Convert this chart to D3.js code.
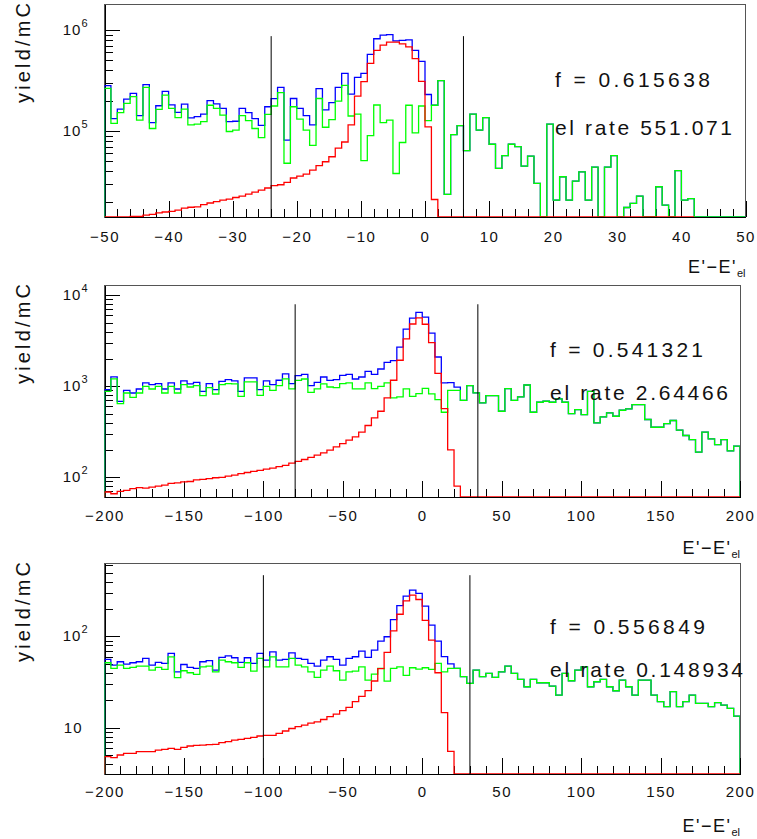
<!DOCTYPE html>
<html>
<head>
<meta charset="utf-8">
<script src="https://cdnjs.cloudflare.com/ajax/libs/d3/7.8.5/d3.min.js"></script>
<style>
body{margin:0;background:#fff;}
svg{display:block;font-family:"Liberation Sans",Arial,sans-serif;}
.axis path,.axis line{stroke:#000;shape-rendering:crispEdges;}
</style>
</head>
<body>
<div id="chart"></div>
<script>
//three log-scale histograms of E'-E'el, 100 bins each
//panel 1: -50..50 (bin 1), panels 2 and 3: -200..200 (bin 4)
var xEdges1 = [-50, 50], xEdges2 = [-200, 200], xEdges3 = [-200, 200];

//blue = total, green = background, red = elastic
var blue1 = [
2.81e5,1.33e5,1.65e5,2.07e5,2.36e5,1.42e5,2.88e5,1.21e5,1.78e5,2.47e5,
1.82e5,1.53e5,1.85e5,1.35e5,1.39e5,1.47e5,2.00e5,1.86e5,1.68e5,1.24e5,
1.25e5,1.68e5,1.52e5,1.33e5,1.14e5,1.74e5,2.09e5,2.71e5,8.15e4,2.10e5,
1.68e5,1.42e5,1.15e5,2.63e5,1.62e5,1.91e5,2.71e5,3.73e5,2.32e5,3.40e5,
3.73e5,5.74e5,8.20e5,8.90e5,9.00e5,7.80e5,7.90e5,8.00e5,6.30e5,4.90e5,
2.30e5,1.80e5,3.15e5,2.36e4,9.20e4,1.13e5,6.40e4,1.47e5,1.02e5,1.36e5,
7.40e4,4.27e4,5.70e4,7.40e4,7.00e4,4.50e4,5.65e4,3.03e4,0,1.17e5,
2.07e4,3.53e4,2.07e4,3.20e4,3.95e4,2.07e4,4.40e4,0,4.40e4,5.70e4,
0,1.75e4,1.92e4,2.27e4,0,0,2.81e4,1.85e4,0,4.05e4,
2.07e4,2.14e4,0,0,0,0,0,0,0,0];
var green1 = [
2.64e5,1.19e5,1.52e5,1.88e5,2.19e5,1.28e5,2.71e5,1.06e5,1.64e5,2.27e5,
1.68e5,1.36e5,1.65e5,1.15e5,1.17e5,1.24e5,1.80e5,1.68e5,1.44e5,9.9e4,
1.02e5,1.42e5,1.27e5,1.06e5,8.6e4,1.46e5,1.77e5,2.40e5,4.8e4,1.74e5,
1.31e5,1.02e5,7.2e4,2.10e5,1.09e5,1.30e5,1.98e5,2.83e5,1.41e5,1.47e5,
5.1e4,9.0e4,1.81e5,1.21e5,1.28e5,3.8e4,7.7e4,1.80e5,9.6e4,1.77e5,
1.27e5,1.80e5,3.15e5,2.36e4,9.20e4,1.13e5,6.40e4,1.47e5,1.02e5,1.36e5,
7.40e4,4.27e4,5.70e4,7.40e4,7.00e4,4.50e4,5.65e4,3.03e4,0,1.17e5,
2.07e4,3.53e4,2.07e4,3.20e4,3.95e4,2.07e4,4.40e4,0,4.40e4,5.70e4,
0,1.75e4,1.92e4,2.27e4,0,0,2.81e4,1.85e4,0,4.05e4,
2.07e4,2.14e4,0,0,0,0,0,0,0,0];
var red1 = [
0,0,0,0,1.43e4,1.43e4,1.47e4,1.50e4,1.55e4,1.58e4,
1.60e4,1.65e4,1.73e4,1.76e4,1.78e4,1.87e4,1.94e4,2.00e4,2.07e4,2.12e4,
2.20e4,2.27e4,2.38e4,2.49e4,2.60e4,2.73e4,2.88e4,2.94e4,3.10e4,3.43e4,
3.58e4,3.75e4,4.11e4,4.54e4,4.97e4,5.57e4,6.79e4,7.79e4,1.15e5,2.22e5,
3.08e5,4.68e5,6.30e5,7.10e5,7.60e5,7.60e5,7.30e5,6.80e5,5.20e5,3.10e5,
1.10e5,2.10e4,0,0,0,0,0,0,0,0,
0,0,0,0,0,0,0,0,0,0,
0,0,0,0,0,0,0,0,0,0,
0,0,0,0,0,0,0,0,0,0,
0,0,null,null,null,null,null,null,null,null];

var blue2 = [
919,1268,684,903,844,934,1088,1043,1070,934,
1088,934,1145,1061,1107,881,1070,919,1135,1185,
1145,881,1236,1236,919,1145,1043,1165,1368,1070,
1309,1354,1017,1106,1266,1163,1183,1320,1354,1203,
1266,1460,1354,1549,1833,1911,2698,4253,5615,6475,
5755,3846,2098,1088,1100,980,700,1017,845,656,
790,790,532,943,702,764,1034,519,668,685,
668,726,668,501,555,489,881,396,461,511,
469,546,564,629,629,432,355,355,390,421,
330,288,260,189,313,265,229,260,195,220];
var green2 = [
881,1205,645,844,756,844,1000,934,1000,844,
1000,844,1043,983,1017,789,967,823,1043,1070,
1061,776,1116,1116,796,1000,903,1017,1205,935,
1163,1203,859,935,1061,983,967,1070,1088,935,
935,1088,943,1000,1088,745,764,935,777,831,
951,824,714,519,900,900,700,1017,845,656,
790,790,532,943,702,764,1034,519,668,685,
668,726,668,501,555,489,881,396,461,511,
469,546,564,629,629,432,355,355,390,421,
330,288,260,189,313,265,229,260,195,220];
var red2 = [
69,66,70,72,75,77,76,78,80,82,
86,87,89,90,94,95,97,99,100,103,
106,110,113,116,119,123,126,131,135,143,
150,157,166,175,186,199,216,235,256,278,
313,371,450,532,745,1166,1934,3318,4838,5644,
4804,3022,1384,569,200,80,0,0,0,0,
0,0,0,0,0,0,0,0,0,0,
0,0,0,0,0,0,0,0,0,0,
0,0,0,0,0,0,0,0,0,0,
0,0,0,0,0,0,0,0,0,0];

var blue3 = [
56.0,48.5,52.8,49.8,51.5,52.8,57.4,48.5,51.9,50.6,
65.1,41.0,49.3,45.8,44.7,52.8,54.2,42.8,58.9,61.4,
58.4,51.9,58.4,50.6,65.1,55.1,67.9,55.1,56.0,66.2,
57.4,56.0,50.6,47.3,55.1,59.9,56.0,48.5,57.4,59.9,
69.1,58.9,70.8,88.9,99.2,153,218,277,321,296,
215,133,89,60,50,44.7,36.2,30.6,42.8,36.2,
39.3,35.6,41.0,47.3,39.3,33.8,28.1,33.8,31.1,31.1,
28.6,22.8,39.3,32.7,42.8,46.5,28.1,31.9,33.8,28.1,
25.4,33.2,28.1,22.8,33.2,33.2,22.8,19.3,17.0,24.8,
17.0,19.3,22.8,18.5,18.5,17.0,18.8,17.7,16.3,13.4];
var green3 = [
51.5,44.7,48.5,44.7,45.8,47.3,47.3,42.8,45.8,43.6,
59.8,35.3,42.1,40.0,38.4,46.5,47.3,41.0,55.1,52.8,
51.5,45.8,51.5,41.7,57.4,46.5,59.8,46.5,46.5,57.4,
48.5,46.5,41.0,35.6,42.8,47.3,42.1,33.3,41.0,41.7,
46.5,33.3,38.7,44.7,32.4,44.7,46.5,37.4,45.4,43.9,
45.4,43.5,50.6,41.0,44.7,44.7,36.2,30.6,42.8,36.2,
39.3,35.6,41.0,47.3,39.3,33.8,28.1,33.8,31.1,31.1,
28.6,22.8,39.3,32.7,42.8,46.5,28.1,31.9,33.8,28.1,
25.4,33.2,28.1,22.8,33.2,33.2,22.8,19.3,17.0,24.8,
17.0,19.3,22.8,18.5,18.5,17.0,18.8,17.7,16.3,13.4];
var red3 = [
4.81,4.69,5.02,5.23,5.23,5.46,5.46,5.46,5.69,5.79,
5.94,5.79,6.09,6.30,6.41,6.46,6.52,6.57,6.85,7.03,
7.32,7.45,7.64,7.84,8.11,8.24,8.24,8.67,9.2,9.8,
10.3,10.7,11.2,11.6,12.3,13.2,14.1,15.4,16.7,19.3,
22,25.5,32.5,44.5,67,115,175,245,284,254,
150,91,40,14.6,5.5,0,0,0,0,0,
0,0,0,0,0,0,0,0,0,0,
0,0,0,0,0,0,0,0,0,0,
0,0,0,0,0,0,0,0,0,0,
0,0,0,0,0,0,0,0,0,0];

//cut lines (x position) and their height
var cuts1 = [-24, 6], cuts2 = [-80, 35], cuts3 = [-100, 30];
var cutTops = [8.7e5, 7970, 469];

//axis ranges and ticks
var yRange1 = [1.41e4, 1.81e6], yRange2 = [60.8, 12970], yRange3 = [3.11, 638];
var xTicks1 = [-50,-40,-30,-20,-10,0,10,20,30,40,50];
var xTicks23 = [-200,-150,-100,-50,0,50,100,150,200];
var yTicks1 = [1e5,1e6], yTicks2 = [1e2,1e3,1e4], yTicks3 = [10,100];

//fit results
var fValues = ["0.615638","0.541321","0.556849"];
var elRates = ["551.071","2.64466","0.148934"];

var width = 757, height = 839;

var svg = d3.select("#chart").append("svg")
.attr("width", width)
.attr("height", height);

var panels = [
  {blue:blue1, green:green1, red:red1, edges:xEdges1, cuts:cuts1, yRange:yRange1,
   xTicks:xTicks1, xMinor:2, yTicks:yTicks1,
   left:104.5, right:745.5, top:4, bottom:217, pad:14, titleY:273, fY:87, rateY:135, textX:555, fLen:155, rateLen:177},
  {blue:blue2, green:green2, red:red2, edges:xEdges2, cuts:cuts2, yRange:yRange2,
   xTicks:xTicks23, xMinor:10, yTicks:yTicks2,
   left:104.5, right:740, top:285, bottom:497, pad:13, titleY:554, fY:357, rateY:400, textX:550, fLen:153, rateLen:178},
  {blue:blue3, green:green3, red:red3, edges:xEdges3, cuts:cuts3, yRange:yRange3,
   xTicks:xTicks23, xMinor:10, yTicks:yTicks3,
   left:104.5, right:740, top:563, bottom:774, pad:12, titleY:832, fY:634, rateY:677, textX:550, fLen:155, rateLen:193}
];

panels.forEach(function(p, pi){

  var x = d3.scaleLinear()
  .domain(p.edges)
  .range([p.left, p.right]);

  var y = d3.scaleLog()
  .domain(p.yRange)
  .range([p.bottom, p.top]);

  var g = svg.append("g").attr("class", "panel");

  //frame
  g.append("rect")
  .attr("x", p.left)
  .attr("y", p.top)
  .attr("width", p.right - p.left)
  .attr("height", p.bottom - p.top)
  .attr("fill", "none")
  .attr("stroke", "#555")
  .attr("shape-rendering", "crispEdges");

  //x axis, ticks point inside the frame
  var xMinorTicks = d3.range(p.edges[0], p.edges[1] + 0.001, p.xMinor);

  g.append("g")
  .attr("class", "axis")
  .attr("transform", "translate(0," + p.bottom + ")")
  .call(d3.axisBottom(x).tickValues(xMinorTicks).tickSize(-8).tickSizeOuter(0).tickFormat(""));

  var xa = g.append("g")
  .attr("class", "axis")
  .attr("transform", "translate(0," + p.bottom + ")")
  .call(d3.axisBottom(x).tickValues(p.xTicks).tickSize(-16).tickSizeOuter(0).tickPadding(p.pad)
    .tickFormat(function(d){ return d < 0 ? "\u2212" + (-d) : d; }));

  xa.selectAll("text")
  .style("font-size", "15px")
  .style("letter-spacing", "1.5px")
  .attr("fill", "#111");

  //y axis, log minor ticks
  var yMinorTicks = [];
  for (var e = -1; e < 8; e++) {
    for (var m = 2; m < 10; m++) {
      var v = m * Math.pow(10, e);
      if (v > p.yRange[0] && v < p.yRange[1]) yMinorTicks.push(v);
    }
  }

  g.append("g")
  .attr("class", "axis")
  .attr("transform", "translate(" + p.left + ",0)")
  .call(d3.axisLeft(y).tickValues(yMinorTicks).tickSize(-8).tickSizeOuter(0).tickFormat(""));

  g.append("g")
  .attr("class", "axis")
  .attr("transform", "translate(" + p.left + ",0)")
  .call(d3.axisLeft(y).tickValues(p.yTicks).tickSize(-15).tickSizeOuter(0).tickFormat(""));

  //y tick labels 10^n
  p.yTicks.forEach(function(t){
    var ex = Math.round(Math.log10(t));
    var lab = g.append("text")
    .attr("x", ex == 1 ? p.left - 22 : p.left - 16)
    .attr("y", y(t) + 5)
    .attr("text-anchor", "end")
    .attr("fill", "#111")
    .style("font-size", "15px")
    .style("letter-spacing", "1px");
    lab.append("tspan").text("10");
    if (ex != 1) {
      lab.append("tspan")
      .attr("dy", -8)
      .style("font-size", "11px")
      .text(ex);
    }
  });

  //histograms
  var clipId = "clip" + pi;
  svg.append("clipPath").attr("id", clipId)
  .append("rect")
  .attr("x", p.left).attr("y", p.top)
  .attr("width", p.right - p.left).attr("height", p.bottom - p.top);

  var binW = (p.edges[1] - p.edges[0]) / 100;
  var yMin = p.yRange[0];

  var line = d3.line()
  .curve(d3.curveStepAfter)
  .x(function(d){ return x(d[0]); })
  .y(function(d){ return y(Math.max(d[1], yMin)); });

  function histPoints(vals){
    var n = vals.length;
    while (n > 0 && vals[n-1] === null) n--;
    var pts = [[p.edges[0], 0]];
    for (var i = 0; i < n; i++) pts.push([p.edges[0] + i * binW, vals[i]]);
    pts.push([p.edges[0] + n * binW, 0]);
    return pts;
  }

  var hg = g.append("g").attr("clip-path", "url(#" + clipId + ")");

  [[p.blue, "#0000ff"], [p.green, "#00ff00"], [p.red, "#ff0000"]].forEach(function(s){
    hg.append("path")
    .attr("d", line(histPoints(s[0])))
    .attr("fill", "none")
    .attr("stroke", s[1])
    .attr("stroke-width", 1.3);
  });

  //cut lines
  g.selectAll(".cut")
  .data(p.cuts)
  .enter().append("line")
  .attr("class", "cut")
  .attr("x1", function(d){ return x(d); })
  .attr("x2", function(d){ return x(d); })
  .attr("y1", p.bottom)
  .attr("y2", y(cutTops[pi]))
  .attr("stroke", "#000")
  .attr("stroke-width", 1);

  //y title
  g.append("text")
  .attr("transform", "translate(30," + (p.top - 1) + ") rotate(-90)")
  .attr("text-anchor", "end")
  .attr("fill", "#111")
  .attr("textLength", 100)
  .attr("lengthAdjust", "spacing")
  .style("font-size", "20px")
  .text("yield/mC");

  //x title
  var xt = g.append("text")
  .attr("x", p.right)
  .attr("y", p.titleY)
  .attr("text-anchor", "end")
  .attr("fill", "#111")
  .style("font-size", "18px")
  .style("letter-spacing", "1.5px");
  xt.append("tspan").text("E'\u2212E'");
  xt.append("tspan").attr("dy", 4).style("font-size", "11px").style("letter-spacing", "0px").text("el");

  //fit text
  g.append("text")
  .attr("x", p.textX)
  .attr("y", p.fY)
  .attr("fill", "#111")
  .attr("textLength", p.fLen)
  .attr("lengthAdjust", "spacing")
  .style("font-size", "21px")
  .text("f = " + fValues[pi]);

  g.append("text")
  .attr("x", p.textX)
  .attr("y", p.rateY)
  .attr("fill", "#111")
  .attr("textLength", p.rateLen)
  .attr("lengthAdjust", "spacing")
  .style("font-size", "21px")
  .text("el rate " + elRates[pi]);
});
</script>
</body>
</html>
